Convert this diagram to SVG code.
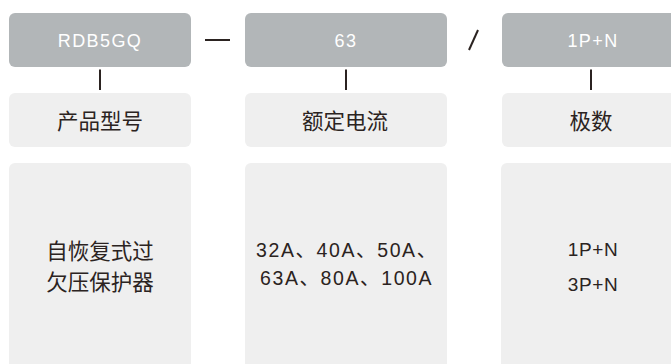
<svg xmlns="http://www.w3.org/2000/svg" width="671" height="364" viewBox="0 0 671 364">
<style>
.code{fill:#b2b6b8}
.lbl{fill:#efefef}
.tw{fill:#ffffff;font-family:"Liberation Sans","Noto Sans CJK SC",sans-serif;font-size:18px;letter-spacing:1.4px;text-anchor:middle}
.tc{fill:#2b2321;font-family:"Noto Sans CJK SC",sans-serif;font-size:21.5px;text-anchor:middle}
.tn{fill:#2b2321;font-family:"Liberation Sans","Noto Sans CJK SC",sans-serif;font-size:19px;letter-spacing:0.6px;text-anchor:middle}
.tr{fill:#2b2321;font-family:"Liberation Sans","Noto Sans CJK SC",sans-serif;font-size:19.5px;letter-spacing:1.6px}
.ln{stroke:#2b2321;stroke-width:2;fill:none}
</style>
<rect width="671" height="364" fill="#ffffff"/>
<g id="node-model">
<rect class="code" x="9" y="13" width="182" height="54" rx="6"/>
<text class="tw" x="100" y="47">RDB5GQ</text>
</g>
<g id="node-current">
<rect class="code" x="245" y="13" width="202" height="54" rx="6"/>
<text class="tw" x="346" y="47">63</text>
</g>
<g id="node-poles">
<rect class="code" x="502" y="13" width="190" height="54" rx="6"/>
<text class="tw" x="593" y="47">1P+N</text>
</g>
<g id="label-model">
<rect class="lbl" x="9" y="93" width="182" height="54" rx="6"/>
<text class="tc" x="100" y="128.5">产品型号</text>
</g>
<g id="label-current">
<rect class="lbl" x="245" y="93" width="202" height="54" rx="6"/>
<text class="tc" x="345" y="128.5">额定电流</text>
</g>
<g id="label-poles">
<rect class="lbl" x="502" y="93" width="190" height="54" rx="6"/>
<text class="tc" x="591" y="128.5">极数</text>
</g>
<g id="desc-model">
<rect class="lbl" x="9" y="163" width="182" height="220" rx="6"/>
<text class="tc" x="100" y="258.5">自恢复式过</text>
<text class="tc" x="100" y="290">欠压保护器</text>
</g>
<g id="desc-current">
<rect class="lbl" x="245" y="163" width="202" height="220" rx="6"/>
<text class="tr" x="256" y="256.7">32A、40A、50A、</text>
<text class="tr" x="260" y="285">63A、80A、100A</text>
</g>
<g id="desc-poles">
<rect class="lbl" x="501" y="163" width="190" height="220" rx="6"/>
<text class="tn" x="593" y="256">1P+N</text>
<text class="tn" x="593" y="291">3P+N</text>
</g>
<g id="connectors">
<line class="ln" x1="100" y1="69.5" x2="100" y2="90"/>
<line class="ln" x1="346" y1="69.5" x2="346" y2="90"/>
<line class="ln" x1="591" y1="69.5" x2="591" y2="90"/>
<line class="ln" x1="205" y1="40" x2="230" y2="40" stroke-width="1.6"/>
<line class="ln" x1="478" y1="30" x2="469" y2="50"/>
</g>
</svg>
